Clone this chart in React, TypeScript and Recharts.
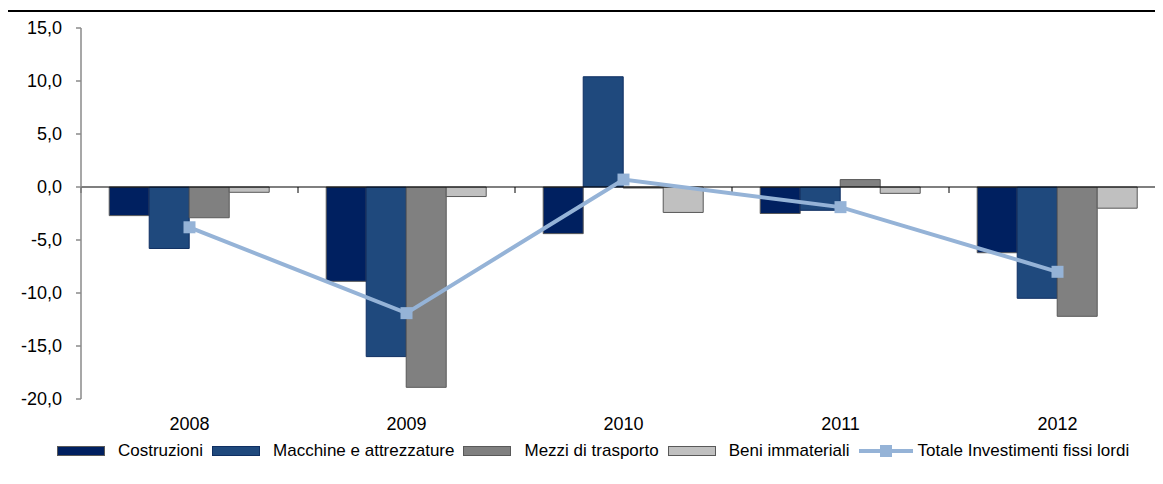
import React from "react";
import {
  ComposedChart,
  Bar,
  Line,
  XAxis,
  YAxis,
  ReferenceLine,
} from "recharts";

const years = ["2008", "2009", "2010", "2011", "2012"];
const costruzioni = [-2.7, -8.9, -4.4, -2.5, -6.2];
const macchine = [-5.8, -16.0, 10.4, -2.2, -10.5];
const mezzi = [-2.9, -18.9, -0.1, 0.7, -12.2];
const beni = [-0.5, -0.9, -2.4, -0.6, -2.0];
const totale = [-3.8, -11.9, 0.7, -1.9, -8.0];
const yTicks = [-20, -15, -10, -5, 0, 5, 10, 15];

const data = years.map((anno, i) => ({
  anno,
  costruzioni: costruzioni[i],
  macchine: macchine[i],
  mezzi: mezzi[i],
  beni: beni[i],
  totale: totale[i],
}));

const FONT = "'Liberation Sans', Arial, sans-serif";
const LINE_COLOR = "#95B3D7";

const SERIES = [
  { key: "costruzioni", name: "Costruzioni", fill: "#002060", stroke: "#595959" },
  { key: "macchine", name: "Macchine e attrezzature", fill: "#1F497D", stroke: "#0F2F62" },
  { key: "mezzi", name: "Mezzi di trasporto", fill: "#808080", stroke: "#595959" },
  { key: "beni", name: "Beni immateriali", fill: "#C0C0C0", stroke: "#595959" },
];

const fmt = (v: number) => v.toFixed(1).replace(".", ",");

const SquareDot = (props: any) => {
  const { cx, cy } = props;
  if (cx == null || cy == null) return null;
  return <rect x={cx - 6} y={cy - 6} width={12} height={12} fill={LINE_COLOR} />;
};

// zero line with tick marks at the category boundaries
const ZeroLine = (props: any) => {
  const { x1, y1, x2, y2 } = props;
  const step = (x2 - x1) / years.length;
  const marks = [];
  for (let i = 0; i <= years.length; i++) {
    const x = x1 + step * i;
    marks.push(<line key={i} x1={x} y1={y1} x2={x} y2={y1 + 6} stroke="#000" strokeWidth={1} />);
  }
  return (
    <g>
      <line x1={x1} y1={y1} x2={x2} y2={y2} stroke="#000" strokeWidth={1.2} />
      {marks}
    </g>
  );
};

const LegendRow = () => (
  <div
    style={{
      display: "flex",
      alignItems: "center",
      paddingLeft: 49,
      fontFamily: FONT,
      fontSize: 17,
      color: "#000",
      height: 24,
      whiteSpace: "nowrap",
    }}
  >
    {SERIES.map((s) => (
      <div key={s.key} style={{ display: "flex", alignItems: "center", marginRight: 9 }}>
        <span
          style={{
            display: "inline-block",
            width: 46,
            height: 8,
            background: s.fill,
            border: `1px solid ${s.stroke}`,
            marginRight: 13,
          }}
        />
        <span>{s.name}</span>
      </div>
    ))}
    <div style={{ display: "flex", alignItems: "center" }}>
      <svg width={54} height={14} style={{ marginRight: 5 }}>
        <line x1={0} y1={7} x2={54} y2={7} stroke={LINE_COLOR} strokeWidth={4} />
        <rect x={21} y={1} width={12} height={12} fill={LINE_COLOR} />
      </svg>
      <span>Totale Investimenti fissi lordi</span>
    </div>
  </div>
);

export default function App() {
  return (
    <div style={{ position: "relative", width: 1155, overflow: "hidden", background: "#fff" }}>
      <div style={{ position: "absolute", left: 0, right: 0, top: 2, height: 2, background: "#000" }} />
      <ComposedChart
        width={1158}
        height={431}
        data={data}
        margin={{ top: 20, right: 0, left: 0, bottom: 0 }}
        barCategoryGap="13%"
        barGap={0}
      >
        <XAxis
          dataKey="anno"
          axisLine={false}
          tickLine={false}
          tickSize={0}
          tickMargin={18}
          height={40}
          interval={0}
          tick={{ fill: "#000", fontSize: 18, fontFamily: FONT }}
        />
        <YAxis
          domain={[-20, 15]}
          ticks={yTicks}
          interval={0}
          width={73}
          tickFormatter={fmt}
          axisLine={{ stroke: "#8A8A8A", strokeWidth: 1.5 }}
          tickLine={{ stroke: "#8A8A8A", strokeWidth: 1.5 }}
          tickSize={5}
          tickMargin={14}
          tick={{ fill: "#000", fontSize: 18, fontFamily: FONT }}
        />
        {SERIES.map((s) => (
          <Bar
            key={s.key}
            dataKey={s.key}
            name={s.name}
            fill={s.fill}
            stroke={s.stroke}
            strokeWidth={1}
            isAnimationActive={false}
          />
        ))}
        <ReferenceLine y={0} shape={<ZeroLine />} />
        <Line
          dataKey="totale"
          name="Totale Investimenti fissi lordi"
          type="linear"
          stroke={LINE_COLOR}
          strokeWidth={4}
          dot={<SquareDot />}
          activeDot={false}
          isAnimationActive={false}
        />
      </ComposedChart>
      <LegendRow />
    </div>
  );
}
